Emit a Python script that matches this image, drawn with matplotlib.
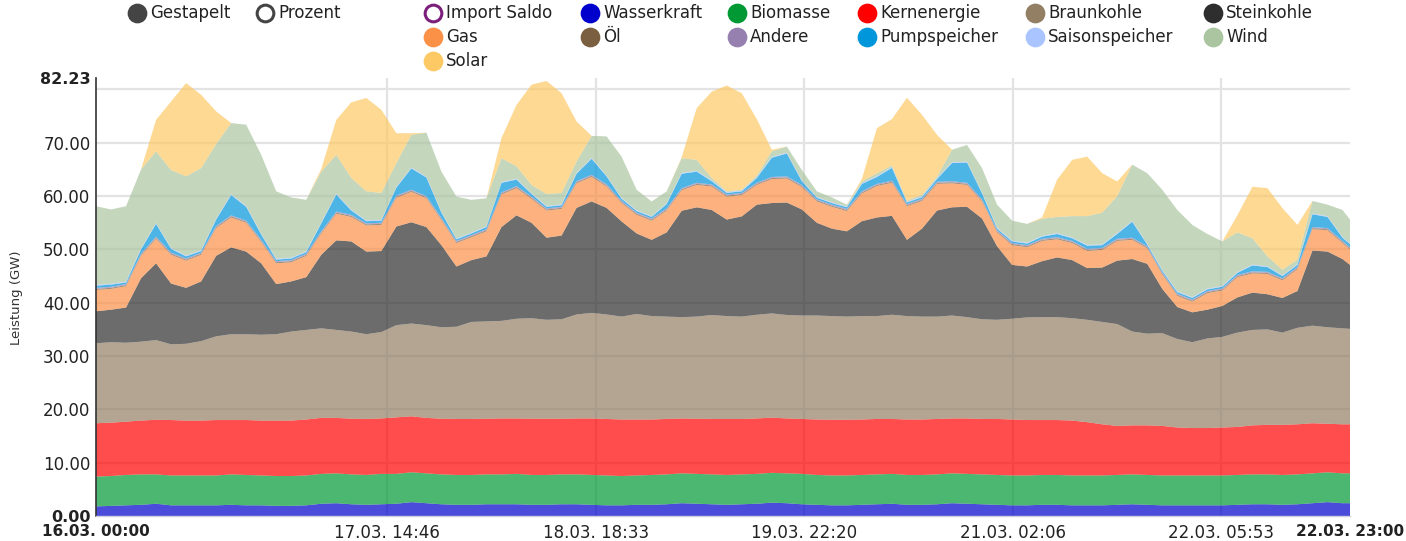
import matplotlib
matplotlib.use("Agg")
import matplotlib.pyplot as plt

# ------------------------------------------------------------
# Data (GW), every 2 hours from 16.03. 00:00
# ------------------------------------------------------------
hours = list(range(0, 167, 2)) + [167]

wasserkraft = [1.8, 1.9, 2.0, 2.1, 2.3, 2.0, 2.0, 2.0, 2.0, 2.1, 2.0, 2.0, 1.9, 1.9, 2.0, 2.3, 2.4,
               2.2, 2.1, 2.2, 2.3, 2.6, 2.4, 2.2, 2.1, 2.1, 2.2, 2.2, 2.2, 2.1, 2.1, 2.2, 2.2, 2.1,
               2.0, 2.0, 2.1, 2.1, 2.2, 2.4, 2.3, 2.2, 2.1, 2.2, 2.3, 2.5, 2.4, 2.2, 2.1, 2.0,
               2.0, 2.1, 2.2, 2.3, 2.1, 2.1, 2.2, 2.4, 2.3, 2.2, 2.1, 2.0, 2.0, 2.1, 2.1, 2.0, 2.0,
               2.0, 2.1, 2.2, 2.1, 2.0, 2.0, 2.0, 2.0, 2.0, 2.1, 2.2, 2.2, 2.1, 2.2, 2.4, 2.6, 2.4, 2.4]

biomasse = [5.6, 5.6, 5.7, 5.7, 5.5, 5.6, 5.6, 5.6, 5.6, 5.7, 5.7, 5.6, 5.6, 5.6, 5.6, 5.6, 5.6,
            5.6, 5.6, 5.7, 5.6, 5.6, 5.6, 5.6, 5.6, 5.6, 5.6, 5.6, 5.7, 5.6, 5.6, 5.6, 5.6, 5.6,
            5.6, 5.5, 5.5, 5.6, 5.6, 5.6, 5.6, 5.6, 5.6, 5.6, 5.6, 5.6, 5.6, 5.7, 5.6, 5.6,
            5.6, 5.6, 5.6, 5.6, 5.6, 5.6, 5.6, 5.6, 5.6, 5.6, 5.6, 5.6, 5.6, 5.6, 5.6, 5.6, 5.6,
            5.6, 5.6, 5.6, 5.6, 5.6, 5.6, 5.6, 5.6, 5.6, 5.6, 5.6, 5.6, 5.6, 5.6, 5.6, 5.6, 5.6, 5.6]

kernenergie = [10.0, 10.0, 10.0, 10.1, 10.25, 10.4, 10.3, 10.3, 10.4, 10.2, 10.3, 10.3, 10.4, 10.4, 10.5, 10.5, 10.4,
               10.45, 10.5, 10.4, 10.6, 10.5, 10.4, 10.45, 10.5, 10.5, 10.45, 10.5, 10.4, 10.55, 10.55, 10.45, 10.5, 10.6,
               10.6, 10.6, 10.5, 10.4, 10.4, 10.3, 10.35, 10.4, 10.5, 10.4, 10.4, 10.35, 10.3, 10.3, 10.4, 10.45,
               10.45, 10.4, 10.4, 10.3, 10.4, 10.4, 10.4, 10.3, 10.4, 10.4, 10.5, 10.5, 10.4, 10.3, 10.3, 10.3, 10.0,
               9.6, 9.2, 9.2, 9.3, 9.3, 9.0, 8.9, 8.9, 9.0, 9.0, 9.2, 9.3, 9.4, 9.4, 9.4, 9.1, 9.2, 9.2]

braunkohle = [15.0, 15.1, 14.8, 14.8, 14.95, 14.2, 14.4, 14.9, 15.7, 16.1, 16.1, 16.1, 16.2, 16.7, 16.8, 16.8, 16.5,
              16.35, 15.9, 16.2, 17.3, 17.4, 17.4, 17.15, 17.3, 18.2, 18.25, 18.3, 18.7, 18.85, 18.55, 18.65, 19.5, 19.8,
              19.6, 19.3, 19.8, 19.4, 19.2, 19.0, 19.15, 19.5, 19.3, 19.2, 19.45, 19.55, 19.4, 19.4, 19.5, 19.45,
              19.35, 19.4, 19.3, 19.55, 19.4, 19.3, 19.2, 19.3, 19.0, 18.7, 18.6, 18.9, 19.25, 19.3, 19.3, 19.2, 19.2,
              19.2, 19.1, 17.6, 17.2, 17.4, 16.6, 16.1, 16.8, 17.0, 17.7, 17.9, 17.9, 17.3, 18.1, 18.3, 18.1, 18.0, 17.9]

steinkohle = [6.0, 6.1, 6.6, 11.9, 14.4, 11.4, 10.5, 11.2, 15.1, 16.3, 15.5, 13.4, 9.4, 9.4, 9.9, 13.8, 16.8,
              16.9, 15.5, 15.2, 18.5, 19.0, 18.4, 15.4, 11.3, 11.6, 12.2, 17.6, 19.4, 17.9, 15.4, 15.7, 20.0, 20.9,
              20.0, 17.85, 15.1, 14.3, 15.8, 19.95, 20.5, 19.7, 18.1, 18.8, 20.65, 20.7, 21.1, 19.9, 17.4, 16.4,
              16.0, 17.8, 18.5, 18.55, 14.3, 16.5, 19.9, 20.3, 20.7, 18.9, 13.8, 10.1, 9.55, 10.5, 11.2, 10.9, 9.7,
              10.2, 11.9, 13.6, 13.1, 8.3, 6.0, 5.6, 5.4, 5.8, 6.6, 7.0, 6.6, 6.5, 6.9, 14.1, 14.2, 13.0, 12.0]

gas = [4.0, 3.9, 4.0, 4.2, 4.6, 5.4, 5.1, 5.0, 5.2, 5.6, 5.4, 4.0, 3.9, 3.6, 4.0, 4.0, 5.0,
       4.6, 4.9, 4.9, 5.4, 5.7, 5.4, 4.7, 4.4, 4.3, 4.7, 6.1, 5.1, 4.5, 5.1, 5.0, 4.6, 4.6,
       4.0, 3.45, 3.5, 3.6, 4.1, 3.85, 4.2, 4.4, 4.3, 4.0, 3.7, 4.5, 4.5, 4.2, 4.0, 4.1,
       3.8, 5.2, 5.9, 6.2, 6.3, 5.2, 5.0, 4.5, 4.1, 3.2, 2.6, 3.7, 3.6, 3.8, 3.4, 3.2, 3.2,
       3.3, 3.7, 3.6, 2.9, 2.7, 2.1, 2.0, 3.1, 2.9, 3.8, 3.6, 3.8, 3.3, 4.1, 4.0, 4.0, 3.0, 2.9]

oel = [0.2, 0.2, 0.2, 0.2, 0.2, 0.2, 0.2, 0.2, 0.2, 0.2, 0.2, 0.2, 0.2, 0.2, 0.2, 0.2, 0.2,
       0.2, 0.2, 0.2, 0.2, 0.2, 0.2, 0.2, 0.2, 0.2, 0.2, 0.2, 0.2, 0.2, 0.2, 0.2, 0.2, 0.2,
       0.2, 0.2, 0.2, 0.2, 0.2, 0.2, 0.2, 0.2, 0.2, 0.2, 0.2, 0.2, 0.2, 0.2, 0.2, 0.2,
       0.2, 0.2, 0.2, 0.2, 0.2, 0.2, 0.2, 0.2, 0.2, 0.2, 0.2, 0.2, 0.2, 0.2, 0.2, 0.2, 0.2,
       0.2, 0.2, 0.2, 0.2, 0.2, 0.2, 0.2, 0.2, 0.2, 0.2, 0.2, 0.2, 0.2, 0.2, 0.2, 0.2, 0.2, 0.2]

andere = [0.2, 0.2, 0.2, 0.2, 0.2, 0.2, 0.2, 0.2, 0.2, 0.2, 0.2, 0.2, 0.2, 0.2, 0.2, 0.2, 0.2,
          0.2, 0.2, 0.2, 0.2, 0.2, 0.2, 0.2, 0.2, 0.2, 0.2, 0.2, 0.2, 0.2, 0.2, 0.2, 0.2, 0.2,
          0.2, 0.2, 0.2, 0.2, 0.2, 0.2, 0.2, 0.2, 0.2, 0.2, 0.2, 0.2, 0.2, 0.2, 0.2, 0.2,
          0.2, 0.2, 0.2, 0.2, 0.2, 0.2, 0.2, 0.2, 0.2, 0.2, 0.2, 0.2, 0.2, 0.2, 0.2, 0.2, 0.2,
          0.2, 0.2, 0.2, 0.2, 0.2, 0.2, 0.2, 0.2, 0.2, 0.2, 0.2, 0.2, 0.2, 0.2, 0.2, 0.2, 0.2, 0.2]

pumpspeicher = [0.4, 0.4, 0.3, 0.8, 2.4, 0.7, 0.4, 0.3, 1.2, 3.8, 2.6, 1.0, 0.3, 0.3, 0.3, 1.5, 3.2,
                0.8, 0.4, 0.4, 1.5, 4.0, 3.5, 1.0, 0.3, 0.3, 0.4, 1.8, 1.2, 0.5, 0.3, 0.3, 1.4, 3.0,
                1.5, 0.4, 0.3, 0.3, 0.8, 2.7, 2.1, 0.6, 0.3, 0.3, 0.9, 3.6, 4.3, 0.7, 0.3, 0.3,
                0.3, 1.4, 1.3, 2.4, 0.3, 0.3, 0.5, 3.4, 3.8, 1.1, 0.3, 0.3, 0.3, 0.4, 0.6, 0.5, 0.6,
                0.5, 0.9, 3.0, 0.3, 0.3, 0.3, 0.3, 0.3, 0.3, 0.4, 1.1, 0.9, 0.4, 0.4, 2.4, 2.1, 0.6, 0.6]

saisonspeicher = [0.15, 0.15, 0.15, 0.15, 0.15, 0.15, 0.15, 0.15, 0.15, 0.15, 0.15, 0.15, 0.15, 0.15, 0.15, 0.15, 0.15,
                  0.15, 0.15, 0.15, 0.15, 0.15, 0.15, 0.15, 0.15, 0.15, 0.15, 0.15, 0.15, 0.15, 0.15, 0.15, 0.15, 0.15,
                  0.15, 0.15, 0.15, 0.15, 0.15, 0.15, 0.15, 0.15, 0.15, 0.15, 0.15, 0.15, 0.15, 0.15, 0.15, 0.15,
                  0.15, 0.15, 0.15, 0.15, 0.15, 0.15, 0.15, 0.15, 0.15, 0.15, 0.15, 0.15, 0.15, 0.15, 0.15, 0.15, 0.15,
                  0.15, 0.15, 0.15, 0.15, 0.15, 0.15, 0.15, 0.15, 0.15, 0.15, 0.15, 0.15, 0.15, 0.15, 0.15, 0.15, 0.15, 0.15]

wind = [14.75, 13.95, 14.15, 14.85, 13.45, 14.65, 14.85, 15.4, 14.0, 13.35, 15.25, 14.8, 12.65, 11.3, 9.65, 9.55, 7.3,
        5.95, 5.45, 5.05, 4.45, 6.15, 8.25, 7.55, 7.85, 6.15, 5.25, 4.45, 2.35, 1.55, 2.25, 2.15, 2.15, 4.15,
        7.35, 7.75, 3.85, 2.75, 2.25, 2.75, 2.05, 0.45, 0.15, 0.15, 0.3, 1.05, 1.15, 1.95, 1.05, 0.9,
        0.35, 0.3, 0.55, 0.3, 0.2, 0.3, 0.3, 2.35, 3.15, 4.6, 4.35, 3.75, 3.55, 3.2, 3.05, 4.0, 5.4,
        5.95, 6.95, 10.55, 13.25, 15.05, 15.25, 13.55, 10.25, 8.35, 7.45, 4.95, 1.85, 1.05, 0.85, 2.35, 2.15, 5.05, 4.45]

solar = [0, 0, 0, 0, 5.9, 12.85, 17.5, 13.75, 6.15, 0, 0, 0, 0, 0, 0, 0.5, 6.55,
         14.2, 17.5, 15.6, 5.6, 0.3, 0, 0, 0, 0, 0, 3.8, 11.5, 18.8, 21.2, 18.7, 7.5, 0,
         0, 0, 0, 0, 0, 0.2, 9.7, 16.2, 19.85, 18.1, 10.6, 0.3, 0, 0, 0, 0,
         0, 0.5, 8.45, 8.7, 19.3, 15.0, 7.85, 0, 0, 0, 0, 0, 0, 0.25, 7.0, 10.55, 11.15,
         7.4, 2.75, 0, 0, 0, 0, 0, 0, 0, 3.2, 9.65, 12.8, 11.55, 6.5, 0, 0, 0, 0]

series_names = ["Wasserkraft", "Biomasse", "Kernenergie", "Braunkohle", "Steinkohle", "Gas",
                "Öl", "Andere", "Pumpspeicher", "Saisonspeicher", "Wind", "Solar"]
series_colors = ["#0000cc", "#009933", "#ff0000", "#937f64", "#2e2e2e", "#fb9147",
                 "#7a6040", "#9680b0", "#0096dc", "#aac4ff", "#abc5a0", "#fdc965"]

x_tick_labels = ["16.03. 00:00", "17.03. 14:46", "18.03. 18:33", "19.03. 22:20",
                 "21.03. 02:06", "22.03. 05:53", "22.03. 23:00"]
y_max = 82.23


def label_hours(lbl):
    day, clock = lbl.split()
    hh, mm = clock.split(":")
    return (int(day[:2]) - 16) * 24 + int(hh) + int(mm) / 60


# ------------------------------------------------------------
# Figure
# ------------------------------------------------------------
W, H = 1406, 541
fig = plt.figure(figsize=(W / 100, H / 100), dpi=100)
ax = fig.add_axes([96 / W, 25 / H, (1350 - 96) / W, (516 - 77.6) / H])

ax.stackplot(hours, wasserkraft, biomasse, kernenergie, braunkohle, steinkohle, gas,
             oel, andere, pumpspeicher, saisonspeicher, wind, solar,
             colors=series_colors, alpha=0.7, linewidth=0, zorder=2)

ax.set_xlim(0, 167)
ax.set_ylim(0, y_max)

# grid
grid_c = "#e3e3e3"
for v in range(10, 90, 10):
    ax.axhline(v, color=grid_c, lw=1.6, zorder=0)
tick_pos = [label_hours(l) for l in x_tick_labels]
for p in tick_pos[1:-1]:
    ax.axvline(p, color=grid_c, lw=1.6, zorder=0)

for s in ["top", "right"]:
    ax.spines[s].set_visible(False)
ax.spines["left"].set_color("#333333")
ax.spines["left"].set_linewidth(1.2)
ax.spines["bottom"].set_color("#d0d0e0")
ax.spines["bottom"].set_linewidth(1.0)

font = "DejaVu Sans"
y_ticks = [0, 10, 20, 30, 40, 50, 60, 70, y_max]
ax.set_yticks(y_ticks)
ax.set_yticklabels([f"{v:.2f}" for v in y_ticks], fontsize=12, color="#222222", family=font)
for t, v in zip(ax.get_yticklabels(), y_ticks):
    if v in (0, y_max):
        t.set_fontweight("bold")
        t.set_fontsize(11.5)
ax.set_xticks(tick_pos)
ax.set_xticklabels(x_tick_labels, fontsize=12, color="#222222", family=font)
for i, t in enumerate(ax.get_xticklabels()):
    if i in (0, len(x_tick_labels) - 1):
        t.set_fontweight("bold")
        t.set_fontsize(11)
ax.tick_params(axis="both", length=0)
ax.tick_params(axis="y", pad=4)
ax.tick_params(axis="x", pad=5.5)

fig.text(17 / W, 1 - 298 / H, "Leistung (GW)", rotation=90, ha="center", va="center",
         fontsize=9.5, color="#333333", family=font)

# ------------------------------------------------------------
# Legend drawn in pixel space at top
# ------------------------------------------------------------
lg = fig.add_axes([0, 0, 1, 1], zorder=5)
lg.set_xlim(0, W)
lg.set_ylim(H, 0)
lg.axis("off")

toggle_items = [("Gestapelt", "#444444", True), ("Prozent", "#444444", False)]
toggle_x = [137, 265]
legend_items = [("Import Saldo", "#7b1f7b", False)] + \
    [(n, c, True) for n, c in zip(series_names, series_colors)]
col_x = [433, 590, 737, 867, 1035, 1213]
row_y = [13, 37, 61]

for (name, c, filled), x in zip(toggle_items, toggle_x):
    lg.plot(x, row_y[0], "o", ms=12, mfc=c if filled else "white", mec=c, mew=2.2)
    lg.text(x + 13, row_y[0], name, va="center", ha="left", fontsize=12, color="#222222", family=font)

for i, (name, c, filled) in enumerate(legend_items):
    x = col_x[i % 6]
    y = row_y[i // 6]
    lg.plot(x, y, "o", ms=12, mfc=c if filled else "white", mec=c, mew=2.2)
    lg.text(x + 13, y, name, va="center", ha="left", fontsize=12, color="#222222", family=font)

fig.savefig("out.png", dpi=100, facecolor="white")
